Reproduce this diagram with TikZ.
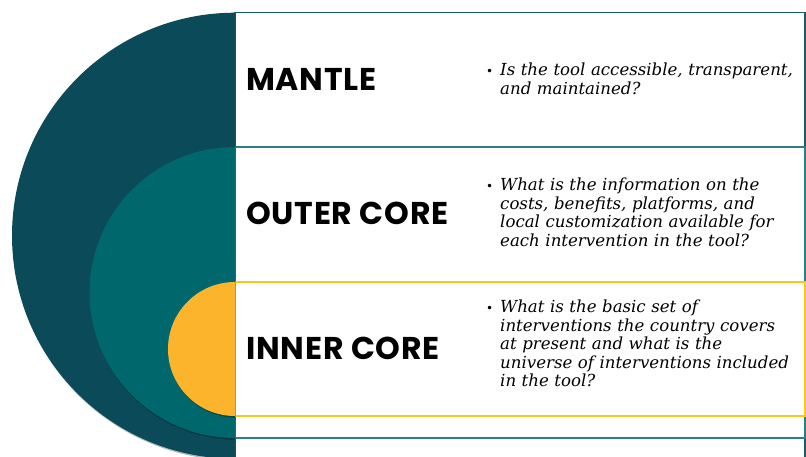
\documentclass[tikz,border=0pt]{standalone}
\usepackage{fontspec}
\usetikzlibrary{calc}
\setmainfont{DejaVu Serif}
\newfontfamily\headfont[LetterSpace=2.5]{Poppins}
\newfontfamily\dotfont{DejaVu Sans}
\definecolor{mantlefill}{HTML}{0B4A58}
\definecolor{outerfill}{HTML}{00676C}
\definecolor{innerfill}{HTML}{FBB42C}
\definecolor{mantleline}{HTML}{1B5B69}
\definecolor{outerline}{HTML}{2A7F84}
\definecolor{innerline}{HTML}{FFC61A}
\tikzset{
  layerbox/.style={draw=#1, line width=1.6pt, fill=white},
  heading/.style={anchor=west, inner sep=0pt, font=\headfont\bfseries\fontsize{31.5}{34}\selectfont},
  question/.style={anchor=west, inner sep=0pt, text width=330pt, align=left,
    font=\itshape\fontsize{16.6}{18.5}\selectfont},
  shade/.style={fill=black, opacity=0.28},
}
\newcommand\qbullet{\llap{\upshape\dotfont\fontsize{12}{12}\selectfont\textbullet\hspace{7pt}}}
\begin{document}
\begin{tikzpicture}[x=1pt,y=-1pt]
  \useasboundingbox (0,0) rectangle (806,457);
  \begin{scope}
    \clip (0,0) rectangle (806,457);
    % stacked boxes, one per layer
    \draw[layerbox=mantleline] (235,12.7) rectangle (805,480);
    \draw[layerbox=outerline] (235,147) rectangle (805,438);
    \draw[layerbox=innerline] (235,282) rectangle (805,416);
    % centres of the three half discs
    \coordinate (cm) at (235,235.7);
    \coordinate (co) at (235,292.5);
    \coordinate (ci) at (235,349);
    % half discs, left of the boxes
    \clip (0,0) rectangle (235,457);
    \fill[shade] ($(cm)+(0.8,1.6)$) circle (223);
    \fill[mantlefill] (cm) circle (223);
    \fill[shade] ($(co)+(0.8,1.6)$) circle (145.5);
    \fill[outerfill] (co) circle (145.5);
    \fill[shade] ($(ci)+(0.8,1.6)$) circle (67);
    \fill[innerfill] (ci) circle (67);
  \end{scope}
  % layer names
  \node[heading] (mname) at (246,79) {MANTLE};
  \node[heading] (oname) at (246,213) {OUTER CORE};
  \node[heading] (iname) at (246,348) {INNER CORE};
  % guiding questions
  \node[question] (mq) at (500,79) {\qbullet Is the tool accessible, transparent,\\ and maintained?};
  \node[question] (oq) at (500,212.5) {\qbullet What is the information on the\\ costs, benefits, platforms, and\\ local customization available for\\ each intervention in the tool?};
  \node[question] (iq) at (500,343.5) {\qbullet What is the basic set of\\ interventions the country covers\\ at present and what is the\\ universe of interventions included\\ in the tool?};
\end{tikzpicture}
\end{document}
